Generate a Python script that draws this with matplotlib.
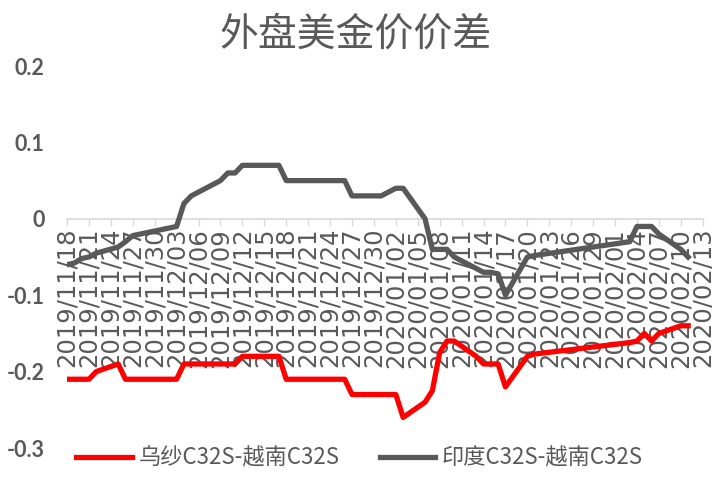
import matplotlib.pyplot as plt
import matplotlib.dates as mdates
import pandas as pd

plt.rcParams['font.family'] = ['Noto Sans CJK SC', 'DejaVu Sans']

# trading days
dates = ['2019-11-18', '2019-11-19', '2019-11-20', '2019-11-21', '2019-11-22',
         '2019-11-25', '2019-11-26', '2019-11-27', '2019-11-28', '2019-11-29',
         '2019-12-02', '2019-12-03', '2019-12-04', '2019-12-05', '2019-12-06',
         '2019-12-09', '2019-12-10', '2019-12-11', '2019-12-12', '2019-12-13',
         '2019-12-16', '2019-12-17', '2019-12-18', '2019-12-19', '2019-12-20',
         '2019-12-23', '2019-12-24', '2019-12-25', '2019-12-26', '2019-12-27',
         '2019-12-30', '2019-12-31', '2020-01-02', '2020-01-03',
         '2020-01-06', '2020-01-07', '2020-01-08', '2020-01-09', '2020-01-10',
         '2020-01-13', '2020-01-14', '2020-01-15', '2020-01-16', '2020-01-17',
         '2020-01-20', '2020-01-21',
         '2020-02-03', '2020-02-04', '2020-02-05', '2020-02-06', '2020-02-07',
         '2020-02-10', '2020-02-11']

uz_vn = [-0.21, -0.21, -0.21, -0.21, -0.20,
         -0.19, -0.21, -0.21, -0.21, -0.21,
         -0.21, -0.21, -0.19, -0.19, -0.19,
         -0.19, -0.19, -0.19, -0.18, -0.18,
         -0.18, -0.18, -0.21, -0.21, -0.21,
         -0.21, -0.21, -0.21, -0.21, -0.23,
         -0.23, -0.23, -0.23, -0.26,
         -0.24, -0.225, -0.175, -0.16, -0.16,
         -0.18, -0.19, -0.19, -0.19, -0.22,
         -0.18, -0.177,
         -0.162, -0.16, -0.15, -0.16, -0.15,
         -0.14, -0.14]

in_vn = [-0.06, -0.058, -0.052, -0.05, -0.045,
         -0.037, -0.03, -0.022, -0.02, -0.018,
         -0.012, -0.01, 0.02, 0.03, 0.035,
         0.05, 0.06, 0.06, 0.07, 0.07,
         0.07, 0.07, 0.05, 0.05, 0.05,
         0.05, 0.05, 0.05, 0.05, 0.03,
         0.03, 0.03, 0.04, 0.04,
         0.0, -0.04, -0.04, -0.04, -0.05,
         -0.065, -0.07, -0.07, -0.072, -0.10,
         -0.05, -0.048,
         -0.03, -0.01, -0.01, -0.01, -0.02,
         -0.04, -0.05]

labels = ['乌纱C32S-越南C32S', '印度C32S-越南C32S']

x = pd.to_datetime(dates)
grey = '#595959'

fig = plt.figure(figsize=(7.12, 4.79), dpi=100)
ax = fig.add_axes([0.0941, 0.0647, 0.8929, 0.7975])

l1, = ax.plot(x, uz_vn, color='#ff0000', lw=3.8, solid_joinstyle='round', zorder=3)
l2, = ax.plot(x, in_vn, color=grey, lw=3.8, solid_joinstyle='round', zorder=3)

ax.set_ylim(-0.3, 0.2)
ax.set_yticks([-0.3, -0.2, -0.1, 0, 0.1, 0.2])
ax.set_yticklabels(['-0.3', '-0.2', '-0.1', '0', '0.1', '0.2'])
ax.set_xlim(pd.Timestamp('2019-11-18'), pd.Timestamp('2020-02-13'))

ticks = pd.date_range('2019-11-18', '2020-02-13', freq='3D')
ax.set_xticks(ticks)
ax.xaxis.set_major_formatter(mdates.DateFormatter('%Y/%m/%d'))

for s in ['top', 'right', 'left']:
    ax.spines[s].set_visible(False)
ax.spines['bottom'].set_position(('data', 0))
ax.spines['bottom'].set_color('#d9d9d9')
ax.spines['bottom'].set_linewidth(1.2)

ax.tick_params(axis='x', direction='out', length=5, width=1, color='#d9d9d9',
               labelcolor=grey, labelsize=17.5, rotation=90, pad=1.5)
for t in ax.get_xticklabels():
    t.set_family('DejaVu Sans')
ax.tick_params(axis='y', length=0, pad=16, labelcolor=grey)
for t in ax.get_yticklabels():
    t.set_family('Lato')
    t.set_fontweight('bold')
    t.set_fontsize(15.5)

fig.text(0.5, 0.927, '外盘美金价价差', ha='center', va='center', fontsize=28, color=grey)

fig.legend([l1, l2], labels, loc='lower center', ncol=2, frameon=False,
           bbox_to_anchor=(0.505, -0.022), fontsize=16, labelcolor=grey,
           handlelength=2.5, handletextpad=0.3, columnspacing=1.8)

plt.savefig('out.png', dpi=100)
